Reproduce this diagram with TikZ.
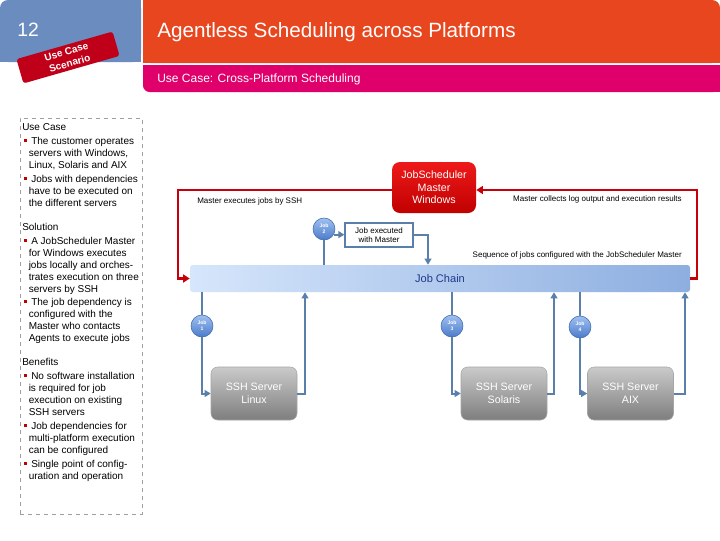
\documentclass[tikz,border=0pt]{standalone}
\usepackage{fontspec}
\setmainfont{Liberation Sans}
\usetikzlibrary{arrows.meta}
\definecolor{hdrblue}{HTML}{6B8CBF}
\definecolor{hdrorange}{HTML}{E8461E}
\definecolor{hdrmagenta}{HTML}{E0006C}
\definecolor{labelred}{HTML}{C00018}
\definecolor{linkblue}{HTML}{5A7FAA}
\definecolor{linkred}{HTML}{C8000A}
\definecolor{bulletred}{HTML}{C00000}
\definecolor{chainL}{HTML}{D6E6FB}
\definecolor{chainR}{HTML}{8DAEE0}
\definecolor{chaintext}{HTML}{1F3A8A}
\definecolor{jobtop}{HTML}{A0C0F0}
\definecolor{jobbot}{HTML}{4A7BCB}
\definecolor{srvtop}{HTML}{CACACA}
\definecolor{srvbot}{HTML}{7E7E7E}
\definecolor{mastertop}{HTML}{EE1A1A}
\definecolor{masterbot}{HTML}{C00000}
\newcommand\ucHead[3]{\node[lt] (#1) at (22,#2) {#3};}
\newcommand\ucBul[3]{\node[lt] (#1) at (31,#2) {#3};\fill[bulletred] (23.5,#2-5.5) rectangle (26.5,#2-2.5);}
\newcommand\ucCont[3]{\node[lt] (#1) at (28.5,#2) {#3};}
\begin{document}
\begin{tikzpicture}[x=0.75pt,y=-0.75pt,
 lt/.style={font=\fontsize{7.5}{9}\selectfont, inner sep=0, anchor=base west},
 link/.style={draw=linkblue, line width=1.5pt, -{Triangle[length=4.5pt,width=5pt]}},
 plainlink/.style={draw=linkblue, line width=1.5pt},
 redlink/.style={draw=linkred, line width=1.6pt, -{Triangle[length=5pt,width=6pt]}},
 jobball/.style={circle, minimum size=16.5pt, inner sep=0, top color=jobtop, bottom color=jobbot, draw=jobbot!85!black, line width=0.4pt, text=white, font=\bfseries\fontsize{3.8}{4.3}\selectfont, align=center},
 server/.style={rounded corners=5pt, minimum width=64.5pt, minimum height=39.75pt, inner sep=0, top color=srvtop, bottom color=srvbot, draw=gray!70, line width=0.4pt, text=white, font=\fontsize{8}{9.75}\selectfont, align=center},
 small/.style={font=\fontsize{6}{7}\selectfont, inner sep=0}
]
\useasboundingbox (0,0) rectangle (720,540);
\fill[white] (0,0) rectangle (720,540);
% header
\fill[hdrblue, rounded corners=6pt] (0,0) rectangle (141,62);
\fill[hdrblue] (0,20) rectangle (141,62);
\fill[hdrblue] (40,0) rectangle (141,62);
\node[text=white, font=\fontsize{14.5}{16}\selectfont, anchor=base west, inner sep=0] (num) at (17,36.7) {12};
\fill[hdrorange, rounded corners=6pt] (143,0) rectangle (720,63);
\fill[hdrorange] (143,0) rectangle (680,63);
\fill[hdrorange] (143,20) rectangle (720,63);
\node[text=white, font=\fontsize{15.5}{18}\selectfont, anchor=base west, inner sep=0] (title) at (157,37.5) {Agentless Scheduling across Platforms};
\fill[hdrmagenta, rounded corners=5pt] (143,65) rectangle (720,92);
\fill[hdrmagenta] (143,65) rectangle (720,80);
\fill[hdrmagenta] (170,65) rectangle (720,92);
\node[text=white, font=\fontsize{9}{11}\selectfont, anchor=base west, inner sep=0] (subtitle) at (157,82.5) {Use Case: Cross-Platform Scheduling};
\node[rotate=16, fill=labelred, rounded corners=2pt, minimum width=75pt, minimum height=19pt, text=white, font=\bfseries\fontsize{7.5}{9}\selectfont, align=center, inner sep=0] (uclabel) at (68,57.5) {Use Case\\Scenario};
% left text box
\node[draw=gray!75, dashed, line width=0.6pt, minimum width=91.5pt, minimum height=297pt, inner sep=0] (ucbox) at (81,316) {};
\ucHead{t1}{130.5}{Use Case}
\ucBul{t2}{144.5}{The customer operates}
\ucCont{t3}{156.5}{servers with Windows,}
\ucCont{t4}{168.5}{Linux, Solaris and AIX}
\ucBul{t5}{182.5}{Jobs with dependencies}
\ucCont{t6}{194.5}{have to be executed on}
\ucCont{t7}{206.5}{the different servers}
\ucHead{t8}{230.5}{Solution}
\ucBul{t9}{244.5}{A JobScheduler Master}
\ucCont{t10}{256.5}{for Windows executes}
\ucCont{t11}{268.5}{jobs locally and orches-}
\ucCont{t12}{280.5}{trates execution on three}
\ucCont{t13}{292.5}{servers by SSH}
\ucBul{t14}{305.5}{The job dependency is}
\ucCont{t15}{317.5}{configured with the}
\ucCont{t16}{329.5}{Master who contacts}
\ucCont{t17}{341.5}{Agents to execute jobs}
\ucHead{t18}{365.5}{Benefits}
\ucBul{t19}{379.5}{No software installation}
\ucCont{t20}{391.5}{is required for job}
\ucCont{t21}{403.5}{execution on existing}
\ucCont{t22}{415.5}{SSH servers}
\ucBul{t23}{429.5}{Job dependencies for}
\ucCont{t24}{441.5}{multi-platform execution}
\ucCont{t25}{453.5}{can be configured}
\ucBul{t26}{467.5}{Single point of config-}
\ucCont{t27}{479.5}{uration and operation}
% diagram nodes
\node[rounded corners=6pt, top color=mastertop, bottom color=masterbot, minimum width=63pt, minimum height=38.25pt, text=white, font=\fontsize{8}{9.4}\selectfont, align=center, inner sep=0] (master) at (434,187.5) {JobScheduler\\Master\\Windows};
\node[draw=linkblue, line width=0.8pt, fill=white, minimum width=51pt, minimum height=18pt, font=\fontsize{6}{6.5}\selectfont, align=center, inner sep=0] (exec) at (379,235) {Job executed\\with Master};
\node[rounded corners=2pt, left color=chainL, right color=chainR, minimum width=375pt, minimum height=20.25pt, text=chaintext, font=\fontsize{8.3}{10}\selectfont, inner sep=0] (chain) at (440,278.5) {Job Chain};
\node[jobball] (job1) at (202,326) {Job\\1};
\node[jobball] (job2) at (324,229) {Job\\2};
\node[jobball] (job3) at (452,326) {Job\\3};
\node[jobball] (job4) at (580,327) {Job\\4};
\node[server] (linux) at (254,393.5) {SSH Server\\Linux};
\node[server] (solaris) at (504,393.5) {SSH Server\\Solaris};
\node[server] (aix) at (630.5,393.5) {SSH Server\\AIX};
\node[small, anchor=west] (lblexec) at (197,201) {Master executes jobs by SSH};
\node[small, anchor=east] (lblcollect) at (682,199) {Master collects log output and execution results};
\node[small, anchor=east] (lblseq) at (682,255) {Sequence of jobs configured with the JobScheduler Master};
\coordinate (up1) at (305,0);
\coordinate (up2) at (554,0);
\coordinate (up3) at (685,0);
\coordinate (down1) at (428,0);
\coordinate (rl) at (178,190);
\coordinate (rr) at (697,190);
% connectors
\draw[plainlink] (job1 |- chain.south) -- (job1.north);
\draw[link] (job1.south) |- (linux.west);
\draw[link] (linux.east) -| (up1 |- chain.south);
\draw[plainlink] (job3 |- chain.south) -- (job3.north);
\draw[link] (job3.south) |- (solaris.west);
\draw[link] (solaris.east) -| (up2 |- chain.south);
\draw[plainlink] (job4 |- chain.south) -- (job4.north);
\draw[link] (job4.south) |- (aix.west);
\draw[link] (aix.east) -| (up3 |- chain.south);
\draw[plainlink] (job2.south) -- (job2 |- chain.north);
\draw[link] (job2.-30) -- (job2.-30 -| exec.west);
\draw[link] (exec.east) -| (down1 |- chain.north);
\draw[redlink] (master.west |- rl) -- (rl) -- (rl |- chain.west) -- (chain.west);
\draw[redlink] (chain.east) -- (rr |- chain.east) -- (rr) -- (master.east |- rr);
\end{tikzpicture}
\end{document}
